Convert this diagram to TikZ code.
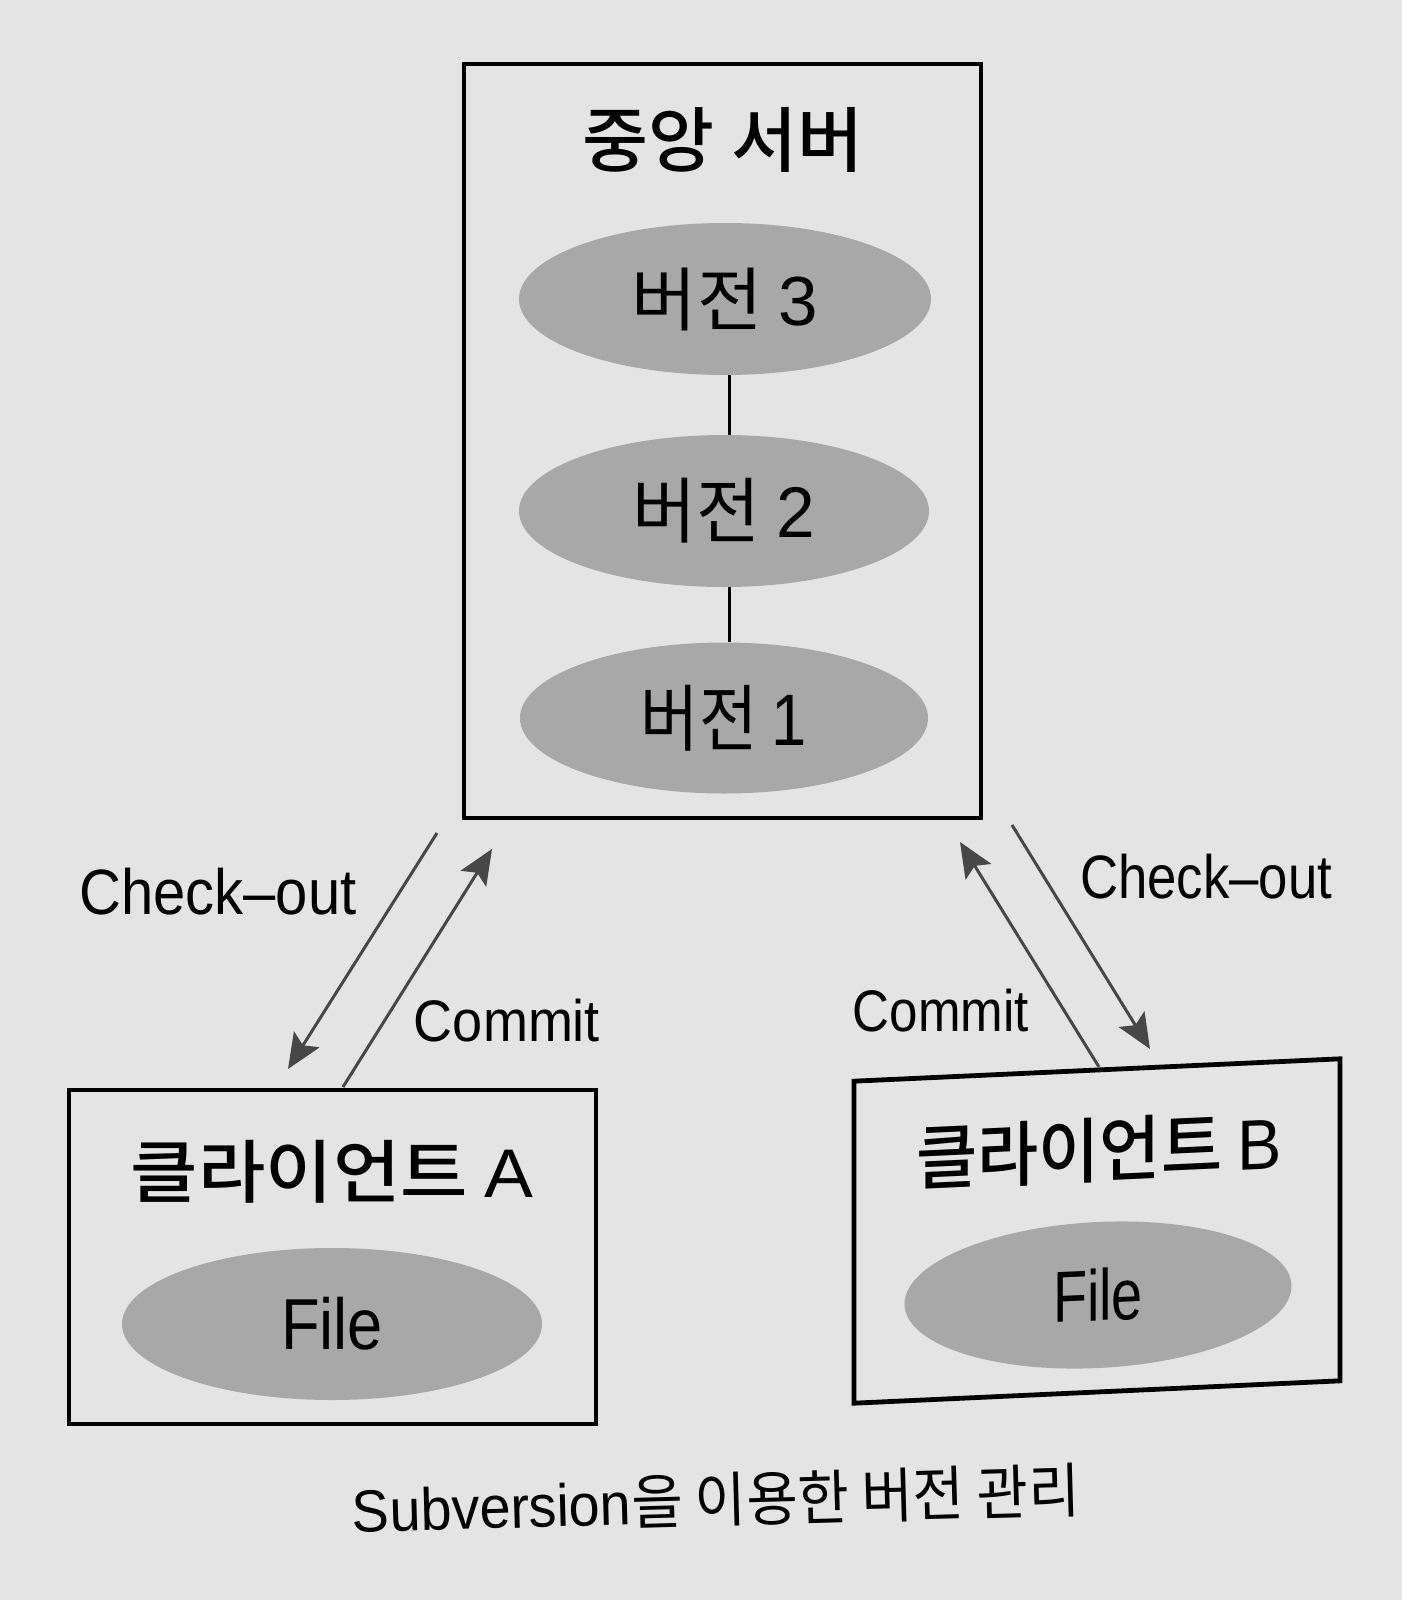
\documentclass[tikz,border=0pt]{standalone}
\usepackage{fontspec}
\usepackage{graphicx}
\setmainfont{Noto Sans CJK KR}
\newfontfamily\krmed{Noto Sans CJK KR Medium}
\newfontfamily\lat{Liberation Sans}
\usetikzlibrary{arrows.meta,shapes.geometric}
\definecolor{paper}{HTML}{E4E4E4}
\definecolor{dotgray}{HTML}{A8A8A8}
\definecolor{arrowgray}{HTML}{474747}
\newcommand\fit[3]{\resizebox*{#1pt}{#2pt}{#3}}
\begin{document}
\begin{tikzpicture}[x=0.5pt,y=-0.5pt,
  box/.style={draw=black, line width=2.4pt, rectangle, inner sep=0pt},
  blob/.style={ellipse, fill=dotgray, inner sep=0pt},
  txt/.style={inner sep=0pt},
  link/.style={draw=black, line width=1.5pt},
  flow/.style={draw=arrowgray, line width=1.5pt, -{Stealth[length=17.5pt,width=15pt,inset=3.5pt]}},
  shear/.style={yslant=0.046}]
\path[use as bounding box, fill=paper] (0,0) rectangle (1402,1600);

% central server
\node[box, minimum width=258.5pt, minimum height=377pt] (server) at (722.5,441) {};
\node[txt] (title) at (723,140) {\fit{140}{32.5}{\krmed 중앙 서버}};
\node[blob, minimum width=206pt, minimum height=76pt] (e3) at (725,299) {\fit{93}{31.5}{버전 {\lat 3}}};
\node[blob, minimum width=205pt, minimum height=76pt] (e2) at (724,511) {\fit{91}{32.5}{버전 {\lat 2}}};
\node[blob, minimum width=204pt, minimum height=75.5pt] (e1) at (724,718) {\fit{83}{33}{버전 {\lat 1}}};
\coordinate (lx) at (729,0);
\draw[link] (e3.south -| lx) -- (e2.north -| lx);
\draw[link] (e2.south -| lx) -- (e1.north -| lx);

% client A
\node[box, minimum width=263.5pt, minimum height=167pt] (cliA) at (332.5,1257) {};
\node[txt] (titleA) at (332,1172) {\fit{201}{31.5}{\krmed 클라이언트 {\lat A}}};
\node[blob, minimum width=210pt, minimum height=76pt] (fileA) at (332,1324) {\fit{51}{26.5}{\lat File}};

% client B
\node[box, shear, minimum width=243pt, minimum height=161pt] (cliB) at (1097,1231) {};
\node[txt, shear] (titleB) at (1099,1150) {\fit{182.5}{32.5}{\krmed 클라이언트 {\lat B}}};
\node[blob, shear, minimum width=193.5pt, minimum height=73pt] (fileB) at (1098,1295) {\fit{45}{26.5}{\lat File}};

% arrows
\coordinate (coA1) at (437,833);
\coordinate (coA2) at (288,1069);
\coordinate (cmA1) at (343,1087);
\coordinate (cmA2) at (492,849);
\coordinate (cmB1) at (1099,1067);
\coordinate (cmB2) at (960,842);
\coordinate (coB1) at (1012,825);
\coordinate (coB2) at (1150,1049);
\draw[flow] (coA1) -- (coA2);
\draw[flow] (cmA1) -- (cmA2);
\draw[flow] (cmB1) -- (cmB2);
\draw[flow] (coB1) -- (coB2);

% labels
\node[txt] (lco) at (218,892) {\fit{138.5}{23.5}{\lat Check–out}};
\node[txt] (lcm) at (507,1021) {\fit{93}{21.5}{\lat Commit}};
\node[txt] (rcm) at (941,1011) {\fit{88}{21.5}{\lat Commit}};
\node[txt] (rco) at (1206,877) {\fit{126}{22.5}{\lat Check–out}};

% caption
\node[txt, rotate=1.6] (cap) at (716,1500) {\fit{364}{27}{{\lat Subversion}을 이용한 버전 관리}};
\end{tikzpicture}
\end{document}
